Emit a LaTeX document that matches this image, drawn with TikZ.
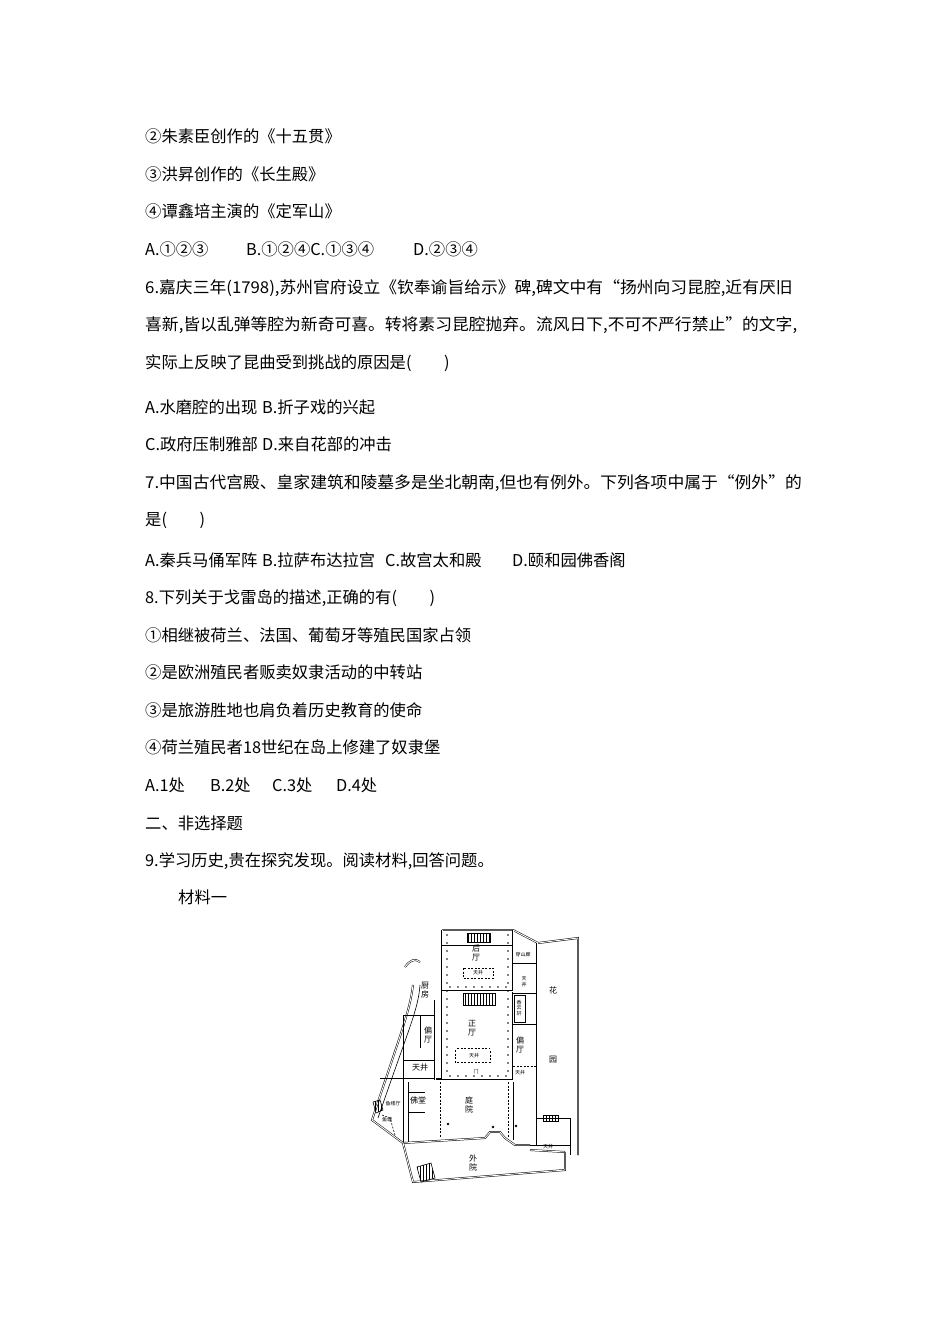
\documentclass[tikz,border=0pt]{standalone}
\usepackage{fontspec}
\setmainfont{Noto Sans CJK SC}
\usetikzlibrary{patterns}
\begin{document}
\begin{tikzpicture}[x=1pt,y=-1pt,
 tx/.style={anchor=base west,inner sep=0pt,yshift=-5pt,font=\fontsize{16.3}{17}\selectfont},
 lb/.style={inner sep=0pt,font=\fontsize{8}{9}\selectfont,align=center},
 sl/.style={inner sep=0pt,font=\fontsize{5}{5.5}\selectfont},
 wall/.style={line width=0.5pt,double,double distance=0.9pt},
 thin/.style={line width=0.6pt},
 dsh/.style={line width=0.6pt,dash pattern=on 2pt off 1.5pt},
 stair/.style={draw,line width=0.6pt,pattern=vertical lines}]
\useasboundingbox (0,0) rectangle (950,1344);
% text
\node[tx] (l1) at (145,137) {②朱素臣创作的《十五贯》};
\node[tx] (l2) at (145,175) {③洪昇创作的《长生殿》};
\node[tx] (l3) at (145,212) {④谭鑫培主演的《定军山》};
\node[tx] (l4a) at (145,250) {A.①②③};
\node[tx] (l4b) at (246,250) {B.①②④C.①③④};
\node[tx] (l4d) at (413,250) {D.②③④};
\node[tx] (l5) at (145,288) {\scalebox{1.03}[1]{6.嘉庆三年(1798),苏州官府设立《钦奉谕旨给示》碑,碑文中有“扬州向习昆腔,近有厌旧}};
\node[tx] (l6) at (145,325) {\scalebox{1.03}[1]{喜新,皆以乱弹等腔为新奇可喜。转将素习昆腔抛弃。流风日下,不可不严行禁止”的文字,}};
\node[tx] (l7) at (145,363) {实际上反映了昆曲受到挑战的原因是(\hspace{2em})};
\node[tx] (l8a) at (145,408) {A.水磨腔的出现};
\node[tx] (l8b) at (262,408) {B.折子戏的兴起};
\node[tx] (l9a) at (145,445) {C.政府压制雅部};
\node[tx] (l9b) at (262,445) {D.来自花部的冲击};
\node[tx] (l10) at (145,483) {\scalebox{1.03}[1]{7.中国古代宫殿、皇家建筑和陵墓多是坐北朝南,但也有例外。下列各项中属于“例外”的}};
\node[tx] (l11) at (145,520) {是(\hspace{2em})};
\node[tx] (l12a) at (145,561) {A.秦兵马俑军阵};
\node[tx] (l12b) at (262,561) {B.拉萨布达拉宫};
\node[tx] (l12c) at (385,561) {C.故宫太和殿};
\node[tx] (l12d) at (512,561) {D.颐和园佛香阁};
\node[tx] (l13) at (145,598) {8.下列关于戈雷岛的描述,正确的有(\hspace{2em})};
\node[tx] (l14) at (145,636) {①相继被荷兰、法国、葡萄牙等殖民国家占领};
\node[tx] (l15) at (145,673) {②是欧洲殖民者贩卖奴隶活动的中转站};
\node[tx] (l16) at (145,711) {③是旅游胜地也肩负着历史教育的使命};
\node[tx] (l17) at (145,748) {④荷兰殖民者18世纪在岛上修建了奴隶堡};
\node[tx] (l18a) at (145,786) {A.1处};
\node[tx] (l18b) at (210,786) {B.2处};
\node[tx] (l18c) at (272,786) {C.3处};
\node[tx] (l18d) at (336,786) {D.4处};
\node[tx] (l19) at (145,824) {二、非选择题};
\node[tx] (l20) at (145,861) {9.学习历史,贵在探究发现。阅读材料,回答问题。};
\node[tx] (l21) at (178,898) {材料一};
% ---- floor plan ----
\draw[wall] (442,930) -- (513,930) -- (538,943) -- (578,938) -- (578,1155);
\draw[wall] (442,930) -- (442,1080);
\draw[wall] (513,930) -- (513,1080);
\draw[wall] (435,1080) -- (513,1080);
\draw[wall] (442,991) -- (513,991);
\draw[wall] (537,943) -- (537,1145);
\draw[thin] (442,945) -- (513,945);
\foreach \yy in {935,943,...,1075} {\fill (447,\yy) circle (0.9pt); \fill (508,\yy) circle (0.9pt);}
\foreach \xx in {450,458,...,506} {\fill (\xx,987) circle (0.9pt); \fill (\xx,1076) circle (0.9pt);}
% right column
\draw[thin] (513,963) -- (537,963);
\draw[thin] (513,993) -- (537,993);
\draw[thin] (514,995) rectangle (525,1022);
\draw[thin] (513,1024) -- (537,1024);
\draw[dsh] (513,1066) -- (537,1066);
\draw[thin] (513,1082) -- (513,1140);
% garden inner bits
\draw[thin] (537,1118) -- (570,1118) -- (570,1145);
\draw[thin] (530,1145) -- (570,1145) -- (570,1155);
% left side
\draw[wall] (405,967) .. controls (410,960) and (415,958) .. (420,962);
\draw[wall] (413,985) .. controls (410,1010) and (402,1030) .. (372,1120) -- (403,1143);
\draw[thin] (420,985) .. controls (418,1010) and (410,1025) .. (378,1118);
\draw[thin] (403,1015) -- (435,1015);
\draw[thin] (403,1015) -- (403,1143);
\draw[thin] (420,1015) -- (420,1048);
\draw[thin] (403,1060) -- (435,1060);
\draw[thin] (380,1078) -- (442,1078);
\draw[thin] (408,1082) -- (408,1143);
\draw[thin] (408,1092) -- (425,1092);
\draw[thin] (408,1112) -- (425,1112);
\draw[dsh] (382,1115) -- (390,1118) -- (395,1135);
\draw[wall] (435,1000) -- (435,1080);
% courtyard
\draw[dsh] (440,1082) -- (440,1138);
\draw[dsh] (508,1082) -- (508,1138);
\draw[dsh] (455,1050) -- (455,1062) -- (490,1062) -- (490,1050);
\draw[dsh] (457,1048) -- (490,1048);
\draw[dsh] (463,968) rectangle (493,978);
\fill (448,1124) circle (1.3pt);
\fill (493,1127) circle (1.3pt);
\fill (516,1126) circle (1.3pt);
\draw[wall] (403,1143) -- (485,1138) -- (490,1132) -- (500,1132) -- (505,1138) -- (515,1145) -- (530,1145);
\draw[wall] (530,1150) -- (565,1152);
\draw[wall] (403,1143) -- (413,1182) -- (565,1170) -- (565,1152);
% stairs
\draw[stair] (467,933) rectangle (490,942);
\draw[stair] (463,993) rectangle (495,1005);
\draw[stair] (543,1115) rectangle (558,1121);
\draw[stair] (417,1167) -- (431,1163) -- (435,1178) -- (421,1182) -- cycle;
\draw[stair] (373,1102) -- (380,1100) -- (383,1110) -- (376,1113) -- cycle;
% labels
\node[lb] (hou) at (476,953) {后\\厅};
\node[sl] (tj1) at (478,973) {天井};
\node[lb] (chu) at (425,990) {厨\\房};
\node[sl] (csl) at (523,955) {穿山廊};
\node[sl,align=center] (tj2) at (524,982) {天\\井};
\node[sl,align=center] (xyx) at (519,1008) {香\\云\\轩};
\node[lb] (hua) at (553,990) {花};
\node[lb] (yuan) at (553,1060) {园};
\node[lb] (zheng) at (472,1028) {正\\厅};
\node[lb] (pl) at (428,1035) {偏\\厅};
\node[lb] (pr) at (520,1045) {偏\\厅};
\node[sl] (tj3) at (474,1056) {天井};
\node[sl] (men) at (476,1072) {门};
\node[lb] (tj4) at (420,1067) {天井};
\node[sl] (tj5) at (520,1073) {天井};
\node[lb] (fo) at (418,1100) {佛堂};
\node[sl] (yjt) at (393,1104) {鱼缕厅};
\node[sl] (yt) at (387,1120) {鱼塘};
\node[lb] (ting) at (469,1105) {庭\\院};
\node[lb] (wai) at (473,1163) {外\\院};
\node[sl] (tj6) at (548,1147) {天井};
\end{tikzpicture}
\end{document}
